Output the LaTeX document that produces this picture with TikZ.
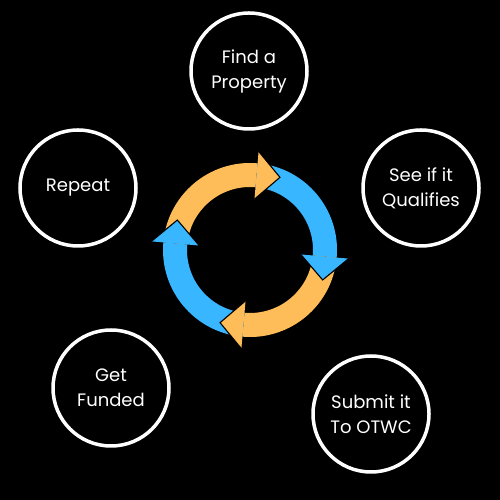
\documentclass[tikz,border=0pt]{standalone}
\usepackage{fontspec}
\setmainfont{Poppins}
\usetikzlibrary{calc}
\definecolor{arrorange}{HTML}{FFBD59}
\definecolor{arrblue}{HTML}{38B6FF}
\tikzset{
  bub/.style={circle, draw=white, line width=3.5pt, minimum size=116pt, inner sep=0pt,
    text=white, align=center, font=\fontsize{18}{25}\selectfont},
  edgeline/.style={draw=black, line width=1.1pt, line join=miter}
}
\begin{document}
\begin{tikzpicture}[x=1pt,y=1pt]
\fill[black] (0,0) rectangle (500,500);
\useasboundingbox (0,0) rectangle (500,500);
\node[bub] (find) at (249,429) {Find a\\Property};
\node[bub] (see) at (421,312) {See if it\\Qualifies};
\node[bub] (submit) at (371,86) {Submit it\\To OTWC};
\node[bub] (funded) at (111,112) {Get\\Funded};
\node[bub] (repeat) at (78,312) {Repeat};
\coordinate (c) at (250,250);
% bodies
\foreach \s/\col in {160/arrorange, 70/arrblue, -20/arrorange, -110/arrblue}{
  \pgfmathsetmacro{\st}{\s+15}
  \pgfmathsetmacro{\b}{\s-75}
  \fill[\col] ($(c)+(\st:87)$) arc[start angle=\st, end angle=\b, radius=87]
    -- ($(c)+(\b:63)$) arc[start angle=\b, end angle=\st, radius=63] -- cycle;
}
% heads
\foreach \s/\col in {160/arrorange, 70/arrblue, -20/arrorange, -110/arrblue}{
  \pgfmathsetmacro{\b}{\s-75}
  \pgfmathsetmacro{\d}{\s-165}
  \coordinate (p1) at ($(c)+(\b:51)$);
  \coordinate (p2) at ($(c)+(\b:99)$);
  \coordinate (tp) at ($(c)+(\b:75)+(\d:23.5)$);
  \fill[\col] (p1) -- (tp) -- (p2) -- cycle;
  \draw[edgeline] (p1) -- (tp) -- (p2);
}
\end{tikzpicture}
\end{document}
